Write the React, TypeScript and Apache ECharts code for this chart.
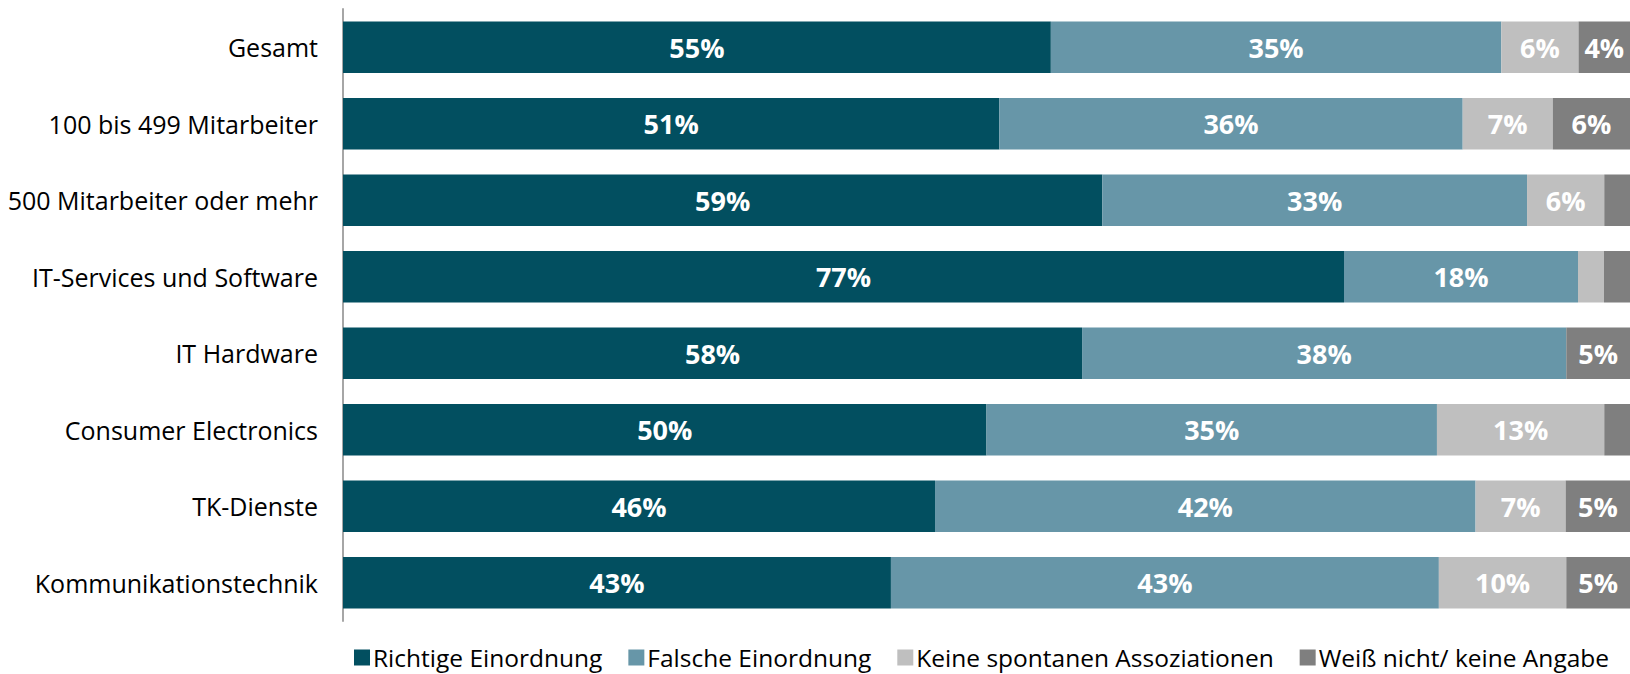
import React, { useEffect, useRef } from "react";
import * as echarts from "echarts";

const categories = [
  "Gesamt",
  "100 bis 499 Mitarbeiter",
  "500 Mitarbeiter oder mehr",
  "IT-Services und Software",
  "IT Hardware",
  "Consumer Electronics",
  "TK-Dienste",
  "Kommunikationstechnik",
];

const seriesNames = [
  "Richtige Einordnung",
  "Falsche Einordnung",
  "Keine spontanen Assoziationen",
  "Weiß nicht/ keine Angabe",
];

const richtige = [55, 51, 59, 77, 58, 50, 46, 43];
const falsche = [35, 36, 33, 18, 38, 35, 42, 43];
const keine = [6, 7, 6, 2, 0, 13, 7, 10];
const weissNicht = [4, 6, 2, 2, 5, 2, 5, 5];

const colors = ["#024F60", "#6796A8", "#BFBFBF", "#7F7F7F"];

export default function App() {
  const ref = useRef<HTMLDivElement>(null);

  useEffect(() => {
    if (!ref.current) return;
    const chart = echarts.init(ref.current, undefined, { renderer: "svg" });
    const raw = [richtige, falsche, keine, weissNicht];
    const sums = categories.map((_, i) => raw.reduce((s, arr) => s + arr[i], 0));
    const font = "'Open Sans', sans-serif";

    chart.setOption({
      animation: false,
      backgroundColor: "#ffffff",
      color: colors,
      textStyle: { fontFamily: font },
      legend: {
        data: seriesNames,
        left: 354,
        top: 645,
        width: 1276,
        icon: "rect",
        itemWidth: 16,
        itemHeight: 16,
        itemGap: 26,
        padding: 0,
        textStyle: { fontSize: 24.5, color: "#000000", fontFamily: font, padding: [0, 0, 0, -2] },
      },
      grid: { left: 343, right: 0, top: 9, bottom: 53, containLabel: false },
      xAxis: {
        type: "value",
        min: 0,
        max: 100,
        show: false,
      },
      yAxis: {
        type: "category",
        data: categories,
        inverse: true,
        axisLine: { show: true, lineStyle: { color: "#A6A6A6", width: 2 } },
        axisTick: { show: false },
        axisLabel: { fontSize: 25, color: "#000000", margin: 25, fontFamily: font },
        splitLine: { show: false },
      },
      series: raw.map((arr, si) => ({
        name: seriesNames[si],
        type: "bar",
        stack: "total",
        barCategoryGap: "33%",
        itemStyle: { color: colors[si] },
        label: {
          show: true,
          position: "inside",
          color: "#ffffff",
          fontWeight: "bold",
          fontSize: 27,
          fontFamily: font,
          formatter: (p: any) => {
            const v = arr[p.dataIndex];
            return v >= 4 ? v + "%" : "";
          },
        },
        data: arr.map((v, i) => (v / sums[i]) * 100),
      })),
    });

    return () => chart.dispose();
  }, []);

  return (
    <div
      ref={ref}
      style={{ position: "absolute", left: 0, top: 0, width: 1630, height: 674 }}
    />
  );
}
